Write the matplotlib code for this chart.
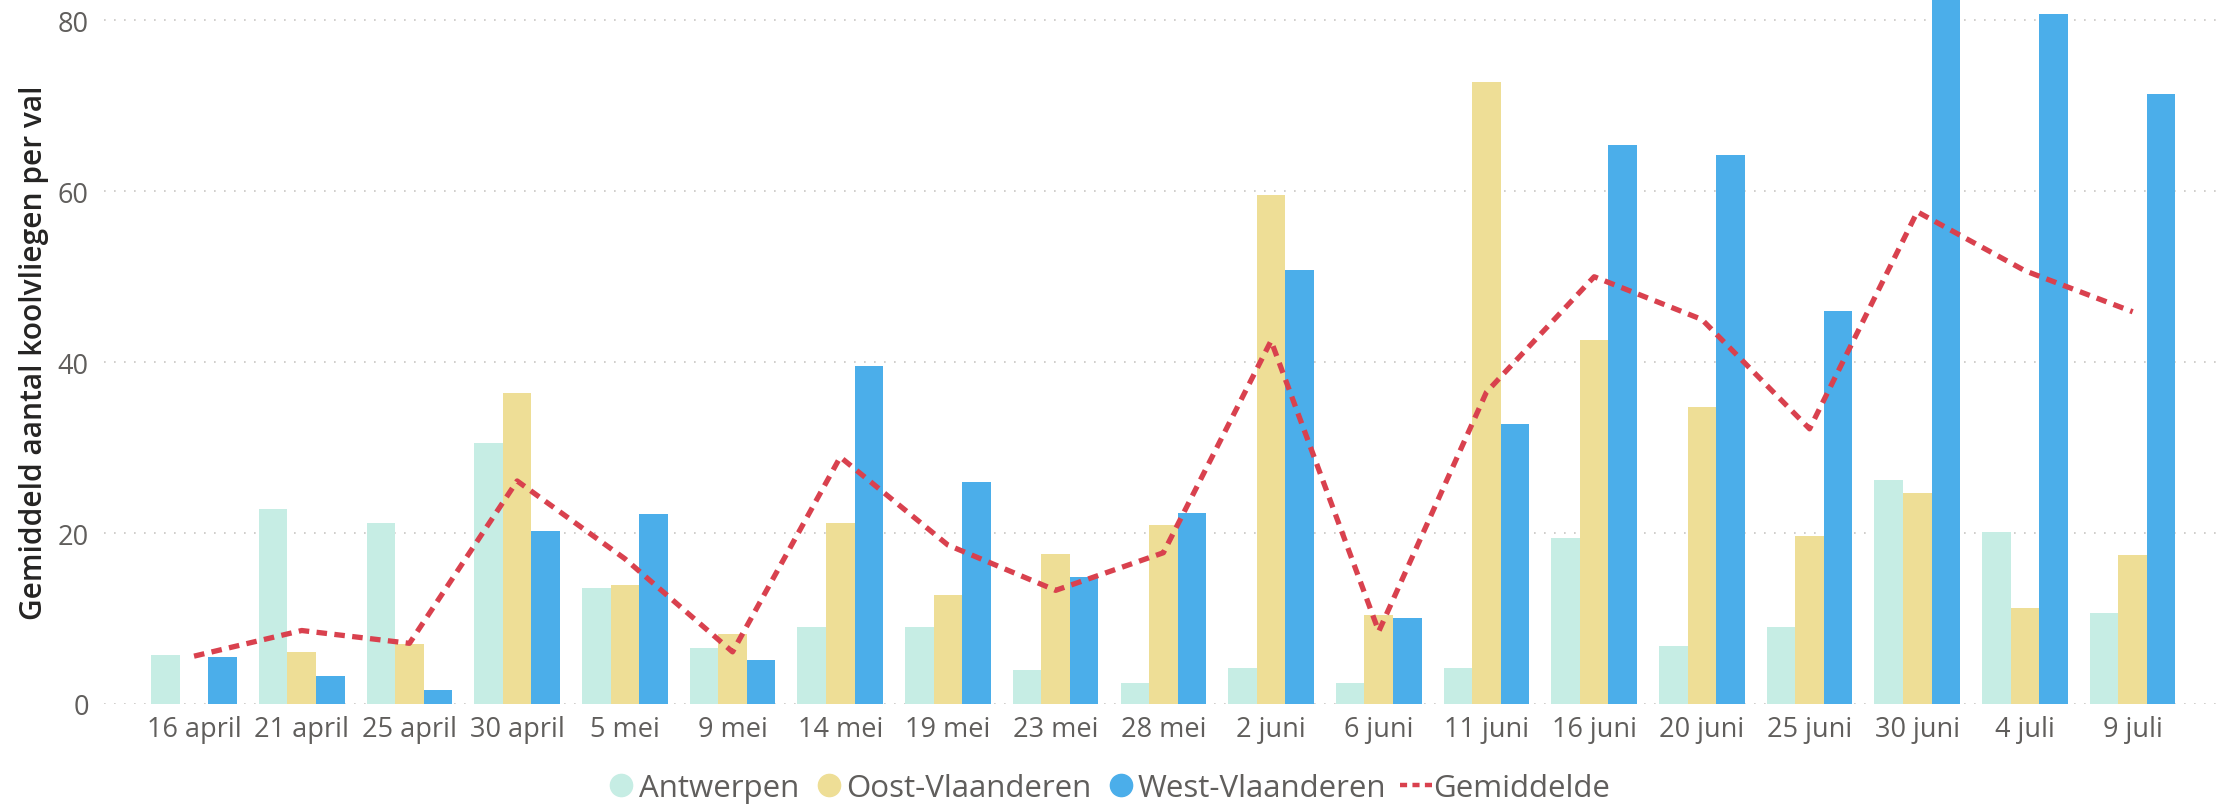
import numpy as np
import matplotlib
matplotlib.use("Agg")
import matplotlib.pyplot as plt
from matplotlib.lines import Line2D

plt.rcParams['font.family'] = ['Open Sans', 'DejaVu Sans']

dates = ["16 april", "21 april", "25 april", "30 april", "5 mei", "9 mei", "14 mei",
         "19 mei", "23 mei", "28 mei", "2 juni", "6 juni", "11 juni", "16 juni",
         "20 juni", "25 juni", "30 juni", "4 juli", "9 juli"]
antwerpen = [5.7, 22.8, 21.2, 30.6, 13.6, 6.6, 9.0, 9.0, 4.0, 2.4, 4.2, 2.4, 4.2,
             19.4, 6.8, 9.0, 26.2, 20.1, 10.7]
oost_vl = [0, 6.1, 7.0, 36.4, 13.9, 8.2, 21.2, 12.8, 17.5, 21.0, 59.6, 10.4, 72.8,
           42.6, 34.7, 19.7, 24.7, 11.2, 17.4]
west_vl = [5.5, 3.3, 1.6, 20.3, 22.2, 5.2, 39.6, 26.0, 14.9, 22.3, 50.8, 10.1, 32.8,
           65.4, 64.2, 46.0, 88.0, 80.8, 71.4]
gemiddelde = [5.6, 8.6, 7.1, 26.1, 17.0, 6.1, 28.9, 18.6, 13.3, 17.7, 42.5, 8.5, 36.5,
              50.0, 45.0, 32.2, 57.6, 50.7, 45.9]

c_antw = '#C6EDE4'
c_oost = '#EEDE96'
c_west = '#4BAEEA'
c_line = '#D9414E'
txt_grey = '#605E5C'

fig = plt.figure(figsize=(22.36, 8.12), dpi=100)
ax = fig.add_axes([104/2236, 107/812, (2221-104)/2236, 705/812])

x = np.arange(len(dates))
w = 0.265
ax.bar(x - w, antwerpen, w, color=c_antw, zorder=2)
ax.bar(x, oost_vl, w, color=c_oost, zorder=2)
ax.bar(x + w, west_vl, w, color=c_west, zorder=2)
ax.plot(x, gemiddelde, color=c_line, lw=3.8, dashes=(2.0, 1.4), zorder=3)

ax.set_xlim(-0.836, 18.82)
ax.set_ylim(0, 82.5)
ax.set_yticks([0, 20, 40, 60, 80])
ax.set_xticks(x)
ax.set_xticklabels(dates)
ax.tick_params(axis='both', length=0, labelsize=19.5, labelcolor=txt_grey)
ax.tick_params(axis='x', pad=8)
ax.tick_params(axis='y', pad=11)
ax.yaxis.grid(True, color='#C8C6C4', linestyle=(0, (1, 5)), lw=1.2, zorder=0)
for s in ax.spines.values():
    s.set_visible(False)

ax.set_ylabel("Gemiddeld aantal koolvliegen per val", fontsize=21.5, color='#252423',
              fontweight='semibold', labelpad=6)

handles = [
    Line2D([], [], marker='o', ls='', color=c_antw, markersize=16),
    Line2D([], [], marker='o', ls='', color=c_oost, markersize=16),
    Line2D([], [], marker='o', ls='', color=c_west, markersize=16),
    Line2D([], [], color=c_line, lw=3.2, dashes=(1.6, 1.2)),
]
labels = ["Antwerpen", "Oost-Vlaanderen", "West-Vlaanderen", "Gemiddelde"]
leg = fig.legend(handles, labels, loc='center', bbox_to_anchor=(1108/2236, 1 - 789/812),
                 ncol=4, frameon=False, fontsize=22.5, handlelength=1.0,
                 handletextpad=0.05, columnspacing=0.45, borderpad=0)
for t in leg.get_texts():
    t.set_color(txt_grey)

fig.savefig("out.png", dpi=100, facecolor='white')
